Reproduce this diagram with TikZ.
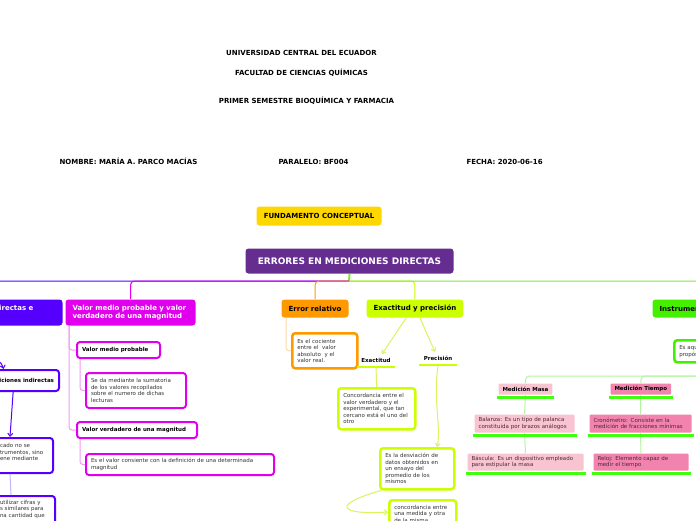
\documentclass[tikz,border=0pt]{standalone}
\usepackage{fontspec}
\setmainfont{DejaVu Sans}
\usetikzlibrary{arrows.meta}

\definecolor{univiolet}{HTML}{662D91}
\definecolor{gold}{HTML}{FFD700}
\definecolor{ublue}{HTML}{5500FF}
\definecolor{umag}{HTML}{E000EE}
\definecolor{uorange}{HTML}{FF9900}
\definecolor{uchart}{HTML}{CCFF00}
\definecolor{ugreen}{HTML}{44F000}
\definecolor{ugreenb}{HTML}{40FF10}
\definecolor{lgreen}{HTML}{7FE840}
\definecolor{lgreenl}{HTML}{B4F4A0}
\definecolor{lpink}{HTML}{F9C4D2}
\definecolor{dpink}{HTML}{F283AE}
\definecolor{lmag}{HTML}{F09CF0}
\definecolor{lorange}{HTML}{FFD9A6}
\definecolor{lchart}{HTML}{D8F460}
\definecolor{lblue}{HTML}{C4B4FF}
\definecolor{txtgray}{HTML}{333333}
\definecolor{txtmaroon}{HTML}{4A2A32}

\begin{document}
\begin{tikzpicture}[x=1pt,y=-1pt,line width=1pt,
  hdr/.style={font=\bfseries\fontsize{7}{8}\selectfont},
  small/.style={font=\fontsize{5.5}{6.5}\selectfont, text=txtgray},
  smallb/.style={font=\bfseries\fontsize{5.5}{6.5}\selectfont},
  topic/.style={rounded corners=3pt, anchor=north west, inner xsep=7pt, inner ysep=0pt, font=\bfseries\fontsize{7}{8.5}\selectfont},
  leaf/.style={draw, fill=white, line width=2pt, rounded corners=3pt, anchor=north west, inner xsep=5pt, inner ysep=0pt, align=left},
  tag/.style={rounded corners=1pt, anchor=north west, inner xsep=4pt, inner ysep=0pt, align=left},
  uline/.style={line width=3pt, ugreenb},
  >={Straight Barb[length=3pt,width=5pt]}
]
\useasboundingbox (0,0) rectangle (696,520);
\clip (0,0) rectangle (696,520);
\fill [white] (0,0) rectangle (696,520);

% header
\node[hdr] (uni) at (301.5,52.5) {UNIVERSIDAD CENTRAL DEL ECUADOR};
\node[hdr] (fac) at (301.5,72.5) {FACULTAD DE CIENCIAS QUÍMICAS};
\node[hdr] (sem) at (306.5,100.5) {PRIMER SEMESTRE BIOQUÍMICA Y FARMACIA};
\node[hdr, anchor=west, inner xsep=0pt] (nom) at (59,161.5) {NOMBRE: MARÍA A. PARCO MACÍAS};
\node[hdr, anchor=west, inner xsep=0pt] (par) at (278,161.5) {PARALELO: BF004};
\node[hdr, anchor=west, inner xsep=0pt] (fec) at (466,161.5) {FECHA: 2020-06-16};

\node[topic, fill=gold, minimum width=125, minimum height=19] (fund) at (256,206) {FUNDAMENTO CONCEPTUAL};
\node[topic, fill=univiolet, text=white, font=\bfseries\fontsize{9}{10}\selectfont, minimum width=208, minimum height=25] (main) at (245,248) {ERRORES EN MEDICIONES DIRECTAS};

% main branches
\node[topic, fill=ublue, text=white, anchor=north east, align=left, text width=108, minimum height=26] (dir) at (63,299) {Mediciones directas e\\indirectas};
\node[topic, fill=umag, text=white, align=left, text width=116, minimum height=26] (vmag) at (65,299) {Valor medio probable y valor\\verdadero de una magnitud};
\node[topic, fill=uorange, minimum width=67, minimum height=18] (erel) at (281,299) {Error relativo};
\node[topic, fill=uchart, minimum width=96, minimum height=18] (expr) at (366,299) {Exactitud y precisión};
\node[topic, fill=ugreen, align=left, text width=86, minimum height=18] (inst) at (652,299) {Instrumentos};

\coordinate (hub) at (349,281);
\draw [lgreen, line width=2pt] (main.south) -- (hub);
\draw [ublue, rounded corners=4pt] (hub) -| ([xshift=12pt]dir.north west);
\draw [umag, rounded corners=4pt] (hub) -| (vmag.north);
\draw [uorange, rounded corners=4pt] (hub) -| (erel.north);
\draw [uchart, rounded corners=4pt] (hub) -| (expr.north);
\draw [lgreen, rounded corners=4pt] (hub) -| (inst.north);

% directas e indirectas
\node[leaf, draw=ublue, smallb, anchor=north east, minimum height=21] (ind) at (60,369) {Mediciones indirectas};
\node[leaf, draw=ublue, small, text width=48, minimum height=35] (indd) at (-6,437) {cado no se\\trumentos, sino\\ene mediante\\\mbox{}};
\node[leaf, draw=ublue, small, text width=50, inner ysep=4pt] (indd2) at (-6,495) {utilizar cifras y\\s similares para\\na cantidad que\\\mbox{}};
\draw [ublue, ->] ([xshift=-40pt]dir.south) .. controls (-25,355) and (0,355) .. ([xshift=-16.5pt]ind.north);
\draw [ublue, ->] ([xshift=-7pt]ind.south) -- ([xshift=-14pt]indd.north);
\draw [lblue] ([xshift=-14pt]indd.south) -- ([xshift=-14pt]indd2.north);

% valor medio probable
\node[leaf, draw=umag, smallb, text width=73, minimum height=16] (vmp) at (76,341) {Valor medio probable};
\node[leaf, draw=umag, small, text width=90, minimum height=35] (vmpd) at (85,372) {Se da mediante la sumatoria\\de los valores recopilados\\sobre el numero de dichas\\lecturas};
\node[leaf, draw=umag, smallb, text width=110, minimum height=16] (vvm) at (76,421) {Valor verdadero de una magnitud};
\node[leaf, draw=umag, small, text width=178, minimum height=21] (vvmd) at (85,453) {Es el valor consiente con la definición de una determinada\\magnitud};
\draw [lmag, rounded corners=3pt] ([xshift=4pt]vmag.south west) |- (vmp.west);
\draw [lmag, rounded corners=3pt] ([xshift=4pt]vmag.south west) |- (vvm.west);
\draw [lmag, rounded corners=3pt] ([xshift=4pt]vmp.south west) |- (vmpd.west);
\draw [lmag, rounded corners=3pt] ([xshift=4pt]vvm.south west) |- (vvmd.west);

% error relativo
\node[leaf, draw=uorange, line width=2.5pt, small, text width=55, minimum height=35] (erd) at (291,332) {Es el cociente\\entre el \ valor\\absoluto \ y el\\valor real.};
\draw [lorange, rounded corners=3pt] ([xshift=5pt]erel.south west) |- (erd.west);

% exactitud y precision
\node[smallb] (exa) at (376,360) {Exactitud};
\node[smallb] (pre) at (438,358) {Precisión};
\draw [line width=2.5pt, uchart] ([xshift=-1pt,yshift=-1pt]exa.south west) -- ([xshift=1pt,yshift=-1pt]exa.south east);
\draw [line width=2.5pt, uchart] ([xshift=-1pt,yshift=-1pt]pre.south west) -- ([xshift=1pt,yshift=-1pt]pre.south east);
\node[leaf, draw=uchart, line width=2.5pt, small, text width=67, minimum height=41] (exd) at (337,387) {Concordancia entre el\\valor verdadero y el\\experimental, que tan\\cercano está el uno del\\otro};
\node[leaf, draw=uchart, line width=2.5pt, small, text width=64, minimum height=41] (prd) at (379,447) {Es la desviación de\\datos obtenidos en\\un ensayo del\\promedio de los\\mismos};
\node[leaf, draw=uchart, line width=2.5pt, small, text width=57, inner ysep=5pt] (prd2) at (388,499) {concordancia entre\\una medida y otra\\de la misma};
\draw [lchart, ->] ([xshift=40pt]expr.south west) -- ([xshift=6pt]exa.north);
\draw [lchart, ->] ([xshift=54pt]expr.south west) -- ([xshift=-3pt]pre.north);
\draw [lchart] ([yshift=-2pt]exa.south) -- (exd.north);
\draw [lchart, ->] ([yshift=-2pt]pre.south) .. controls (433,400) and (441,425) .. ([xshift=20pt]prd.north);
\draw [lchart, ->] ([xshift=2pt]prd.south west) .. controls (330,505) and (340,515) .. ([yshift=-13pt]prd2.north west);

% instrumentos
\node[leaf, draw=ugreen, line width=2.5pt, small, text width=50, minimum height=22] (insd) at (673,339) {Es aquel\\propósito};
\node[tag, fill=lpink, smallb, minimum width=53, minimum height=11] (masa) at (498,383) {Medición Masa};
\node[tag, fill=dpink, smallb, minimum width=60, minimum height=11] (tiem) at (610,383) {Medición Tiempo};
\node[tag, fill=lpink, small, text=txtmaroon, text width=92, minimum height=18] (bal) at (474,414) {Balanza: Es un tipo de palanca\\constituida por brazos análogos};
\node[tag, fill=lpink, small, text=txtmaroon, text width=108, minimum height=17] (bas) at (467,453) {Báscula: Es un dispositivo empleado\\para estipular la masa};
\node[tag, fill=dpink, small, text=txtmaroon, text width=94, minimum height=18] (cro) at (589,414) {Cronómetro: Consiste en la\\medición de fracciones mínimas};
\node[tag, fill=dpink, small, text=txtmaroon, text width=87, minimum height=17] (rel) at (593,453) {Reloj: Elemento capaz de\\medir el tiempo};
\coordinate (ihub) at (760,376);
\draw [lgreenl, rounded corners=4pt] (ihub) -| (masa.north);
\draw [lgreenl, rounded corners=4pt] (ihub) -| (tiem.north);
\draw [lgreenl] (masa.south) -- (bal.north);
\draw [lgreenl] (bal.south) -- (bas.north);
\draw [lgreenl] (tiem.south) -- (cro.north);
\draw [lgreenl] (cro.south) -- (rel.north);
\foreach \n in {masa,tiem,bal,bas,cro,rel}
  \draw [uline] ([xshift=-1.5pt,yshift=-2pt]\n.south west) -- ([xshift=1.5pt,yshift=-2pt]\n.south east);
\end{tikzpicture}
\end{document}
